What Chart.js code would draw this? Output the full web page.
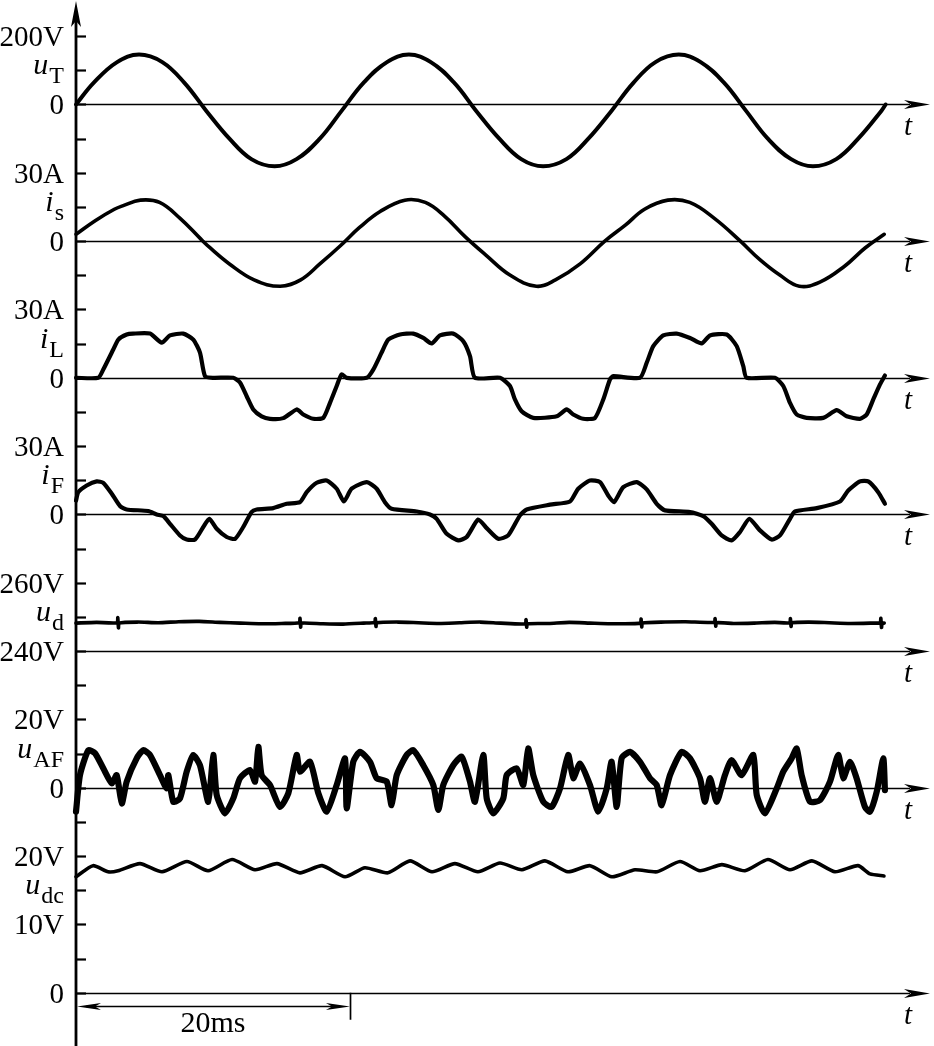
<!DOCTYPE html>
<html><head><meta charset="utf-8">
<script src="https://cdn.jsdelivr.net/npm/chart.js@4/dist/chart.umd.min.js"></script>
<style>html,body{margin:0;padding:0;background:#fff}canvas{display:block}</style>
</head><body>
<canvas id="c" width="934" height="1046"></canvas>
<script>
// ---- DATA (time in ms, values in V or A) ----
const uT = [[0,0],[1.3,64],[3.0,124],[4.6,146],[6.3,124],[7.9,64],[9.5,-18],[11.2,-100],[12.8,-160],[14.5,-181],[16.1,-160],[17.8,-100],[19.4,-18],[21.0,64],[22.7,124],[24.3,146],[25.9,124],[27.6,64],[29.2,-18],[30.9,-100],[32.5,-160],[34.1,-181],[35.8,-160],[37.4,-100],[39.1,-18],[40.7,64],[42.3,124],[44.0,146],[45.6,124],[47.3,64],[48.9,-18],[50.5,-100],[52.2,-160],[53.8,-181],[55.5,-160],[57.1,-100],[58.8,-18],[59.1,0]];
const iS = [[0,3],[1.4,9],[2.8,14],[3.4,15.5],[4.7,18],[6.1,17],[7.6,10],[9.1,1],[9.8,-3],[11.2,-10],[13.0,-17],[14.9,-19.8],[16.4,-17],[17.8,-10],[19.3,-2],[20.7,6],[22.2,13],[24.0,18],[25.5,17],[26.9,11],[28.4,2],[29.9,-6],[31.7,-15],[33.6,-19.8],[35.0,-17],[36.8,-10],[38.6,0],[40.1,7],[41.5,14],[43.2,18],[44.8,17],[46.6,10],[48.5,0],[49.9,-8],[51.4,-15],[52.8,-19.8],[54.3,-18],[56.1,-11],[57.6,-3],[59.0,3]];
const iL = [[0,0],[1.63,0],[1.99,3.6],[2.72,12.4],[3.09,16.8],[3.70,19.0],[4.16,19.4],[5.40,19.4],[6.26,15.4],[6.86,18.6],[7.83,19.4],[8.56,16.8],[9.05,11.1],[9.42,0.7],[10.02,0],[11.48,0],[11.97,-2.1],[12.46,-8.1],[12.94,-13.9],[13.55,-16.9],[14.16,-18.0],[15.13,-17.7],[16.11,-13.9],[16.59,-16.1],[17.32,-18.0],[18.05,-17.6],[18.54,-11.0],[19.03,-3.6],[19.39,1.5],[19.76,0],[21.22,0],[21.70,3.6],[22.31,11.1],[22.80,16.8],[23.65,19.0],[24.62,19.4],[25.35,17.5],[25.96,15.1],[26.57,18.6],[27.54,19.4],[28.27,16.1],[28.76,9.5],[29.12,0],[30.95,0],[31.68,-3.6],[32.04,-9.5],[32.53,-14.7],[33.38,-17.6],[35.09,-16.9],[35.82,-13.9],[36.30,-16.1],[37.03,-18.0],[37.88,-17.6],[38.49,-9.5],[38.98,-0.7],[39.22,0.7],[41.17,0],[41.66,6.6],[42.14,13.9],[42.87,18.6],[43.85,19.4],[44.82,17.5],[45.67,15.1],[46.28,18.6],[47.50,19.0],[48.23,13.9],[48.71,5.1],[48.96,0],[51.02,0],[51.63,-3.6],[52.12,-11.0],[52.61,-16.1],[53.34,-17.6],[54.55,-17.6],[55.53,-14.2],[56.26,-16.9],[57.23,-18.0],[57.72,-16.1],[58.20,-9.5],[58.69,-2.9],[59.05,1.0]];
const iF = [[0,6.1],[0.17,9.8],[0.78,12.7],[1.51,14.5],[1.99,13.9],[2.61,9.1],[3.21,3.7],[3.70,2.2],[5.28,1.5],[5.89,0],[6.37,-0.7],[6.86,-4.1],[7.59,-9.2],[8.08,-11.0],[8.69,-11.0],[9.29,-5.5],[9.73,-1.9],[10.27,-6.3],[11.0,-9.9],[11.61,-10.7],[12.21,-5.5],[12.82,1.1],[13.19,2.2],[14.40,2.8],[15.38,4.7],[16.35,5.4],[16.84,9.8],[17.57,13.9],[18.30,14.9],[19.03,11.3],[19.56,5.7],[20.12,11.3],[21.22,14.2],[21.95,11.3],[22.55,5.4],[23.04,2.5],[24.87,1.3],[25.84,0],[26.33,-1.9],[27.06,-8.5],[27.91,-11.4],[28.52,-9.9],[29.36,-2.2],[29.98,-6.0],[30.82,-10.7],[31.55,-9.2],[32.41,-0.4],[32.90,2.2],[34.60,4.3],[36.06,5.7],[36.66,11.3],[37.52,14.9],[38.25,14.2],[38.85,8.3],[39.27,5.4],[39.95,12.0],[40.93,14.2],[41.66,11.0],[42.39,4.7],[42.99,1.8],[44.82,1.1],[45.79,-0.7],[46.40,-4.1],[47.13,-9.2],[47.86,-11.4],[48.47,-7.7],[49.15,-1.9],[49.93,-7.0],[50.78,-11.0],[51.39,-9.2],[52.12,-1.9],[52.48,1.3],[54.07,2.8],[55.77,5.7],[56.37,10.5],[57.23,14.5],[57.83,14.5],[58.56,9.8],[59.05,4.7]];
const uD = [[0,248.2],[1.5,248.4],[3.0,248.3],[3.05,249.8],[3.1,246.8],[3.15,248.2],[4.5,248.5],[6,248.3],[7.5,248.6],[9,248.7],[10.5,248.4],[12,248.2],[13.5,248.0],[15,248.1],[16.3,248.3],[16.35,249.6],[16.4,247.0],[16.45,248.2],[18,248.0],[19.5,247.9],[21,248.2],[21.8,248.4],[21.85,249.5],[21.9,247.2],[21.95,248.3],[23.5,248.5],[25,248.3],[26.5,248.1],[28,248.3],[29.5,248.5],[31,248.2],[32.8,248.0],[32.85,249.2],[32.9,247.0],[32.95,248.0],[34.5,248.1],[36,248.4],[37.5,248.2],[39,248.0],[41.2,248.2],[41.25,249.4],[41.3,247.1],[41.35,248.2],[43,248.5],[44.5,248.6],[46.6,248.4],[46.65,249.5],[46.7,247.3],[46.75,248.3],[48,248.1],[49.5,248.2],[51,248.4],[52.1,248.3],[52.15,249.5],[52.2,247.2],[52.25,248.3],[53.5,248.5],[55,248.3],[56.5,248.1],[58,248.2],[58.7,248.3],[58.75,249.6],[58.8,246.9],[58.85,248.2],[59.0,248.2]];
const uAF = [[0,-7.0],[0.29,3.7],[0.90,11.0],[1.39,10.1],[1.99,5.7],[2.61,1.3],[2.97,3.7],[3.34,-4.6],[3.70,1.8],[4.43,8.6],[4.91,11.0],[5.40,9.6],[6.13,3.7],[6.62,-0.2],[6.74,3.7],[7.10,-4.1],[7.59,-3.1],[8.08,4.7],[8.56,9.6],[9.05,6.6],[9.66,-4.1],[10.02,9.6],[10.27,-2.1],[10.88,-7.5],[11.48,-3.1],[11.97,2.8],[12.70,5.2],[13.07,1.8],[13.31,12.0],[13.55,3.7],[14.16,0.8],[14.89,-5.6],[15.50,-1.6],[16.11,9.6],[16.35,4.7],[17.08,7.6],[17.69,-1.6],[18.30,-7.0],[19.03,0.8],[19.64,8.6],[19.76,-6.0],[20.24,7.6],[20.73,10.5],[21.46,7.6],[21.95,2.8],[22.68,1.8],[23.04,-5.1],[23.41,3.7],[24.14,9.6],[24.62,11.0],[25.35,6.6],[26.08,0.8],[26.45,-6.5],[26.81,0.8],[27.54,6.6],[28.15,9.1],[28.76,1.8],[29.12,-4.1],[29.73,9.6],[29.98,-3.1],[30.46,-7.5],[31.19,-3.1],[31.44,3.7],[32.17,5.7],[32.65,0.8],[33.01,11.5],[33.38,3.7],[34.11,-4.1],[34.72,-5.6],[35.33,-0.2],[35.93,9.6],[36.30,2.8],[36.79,7.1],[37.52,0.8],[38.12,-7.0],[38.74,-0.2],[39.10,7.6],[39.47,-5.6],[39.83,8.6],[40.44,10.5],[41.17,7.6],[41.90,2.8],[42.39,0.8],[42.75,-5.1],[43.36,3.7],[44.21,10.5],[44.82,8.6],[45.55,2.8],[45.91,-4.1],[46.28,2.8],[46.77,-4.1],[47.37,3.7],[47.86,8.1],[48.59,3.7],[49.44,9.6],[49.69,-2.1],[50.29,-7.5],[51.15,-0.2],[51.63,4.7],[52.24,8.6],[52.61,11.5],[52.97,3.7],[53.58,-4.1],[54.31,-3.6],[55.04,1.8],[55.64,9.6],[56.01,2.8],[56.50,7.6],[56.98,2.8],[57.59,-5.6],[57.96,-7.0],[58.45,-1.2],[58.93,8.6],[59.05,-0.7]];
const uDC = [[0,16.97],[1.24,18.6],[2.34,17.7],[3.07,17.85],[4.67,18.9],[6.28,17.7],[8.10,19.2],[9.64,17.85],[11.39,19.5],[13.07,18.0],[14.67,18.9],[16.35,17.55],[17.96,18.6],[19.64,16.97],[21.09,18.3],[22.77,17.55],[24.38,19.3],[25.99,17.7],[27.66,18.9],[29.34,17.7],[30.95,19.0],[32.55,18.0],[34.23,19.3],[35.91,17.7],[37.52,18.6],[39.12,16.97],[40.80,18.0],[42.41,17.7],[44.09,19.2],[45.55,17.85],[47.15,18.75],[48.83,17.85],[50.51,19.5],[52.12,18.0],[53.72,19.3],[55.40,17.7],[57.08,18.6],[57.96,17.4],[58.98,17.1]];

const seriesData  = [uT, iS, iL, iF, uD, uAF, uDC];
const seriesNames = [['u','T'],['i','s'],['i','L'],['i','F'],['u','d'],['u','AF'],['u','dc']];
const baseValues  = [0, 0, 0, 0, 240, 0, 0];          // value on each horizontal t axis
const stepValues  = [100, 15, 15, 15, 10, 10, 5];       // value per tick division
const tickLabelValues = [[200,0],[30,0],[30,0],[30,0],[260,240],[20,0],[20,10,0]];
const tickLabelTexts  = [['200V','0'],['30A','0'],['30A','0'],['30A','0'],['260V','240V'],['20V','0'],['20V','10V','0']];
const timeMax = 62.34;   // ms at the right arrow tip
const scaleBarMs = 20, scaleBarText = '20ms', timeLabel = 't';

// ---- LAYOUT ----
const TICK_TOP = -1, TICK_BOTTOM = 29.5;
const baseTick  = [2, 6, 10, 14, 18, 22, 28];
const tickRange = [[-1,2],[-1,2],[-1,2],[-1,2],[-1,2],[-1,2],[0,4]];
const nameStep  = [1,1,1,1,1,1,3];
const lineWidths = [4, 3.6, 4.2, 4.2, 3.6, 6.2, 3.6];
const FONT = '"Liberation Serif","Times New Roman",serif';

const scales = {
  x: {type:'linear', min:0, max:timeMax, display:false}
};
seriesData.forEach((d,i)=>{
  scales['y'+i] = {
    type:'linear', display:false,
    max: baseValues[i] + (baseTick[i]-TICK_TOP)*stepValues[i],
    min: baseValues[i] - (TICK_BOTTOM-baseTick[i])*stepValues[i]
  };
});

const datasets = seriesData.map((d,i)=>({
  data: d.map(p=>({x:p[0], y:p[1]})),
  yAxisID: 'y'+i,
  borderColor:'#000', borderWidth: lineWidths[i],
  pointRadius:0, fill:false, clip:false,
  tension: (i<2)?0.4:0.2,
  borderJoinStyle:'round', borderCapStyle:'round'
}));

function arrowRight(ctx,x,y){ctx.beginPath();ctx.moveTo(x,y);ctx.lineTo(x-26,y-4.5);ctx.lineTo(x-19,y);ctx.lineTo(x-26,y+4.5);ctx.closePath();ctx.fill();}
function arrowLeft(ctx,x,y){ctx.beginPath();ctx.moveTo(x,y);ctx.lineTo(x+24,y-3.5);ctx.lineTo(x+18,y);ctx.lineTo(x+24,y+3.5);ctx.closePath();ctx.fill();}

const decor = {
  id:'decor',
  beforeDatasetsDraw(chart){
    const ctx = chart.ctx, xs = chart.scales.x;
    const L = xs.left, R = xs.right;
    ctx.save();
    ctx.fillStyle='#000'; ctx.strokeStyle='#000';
    // vertical axis with arrow
    ctx.lineWidth = 2.8;
    ctx.beginPath(); ctx.moveTo(L, 16); ctx.lineTo(L, chart.height); ctx.stroke();
    ctx.beginPath(); ctx.moveTo(L,1); ctx.lineTo(L-5,27); ctx.lineTo(L,21); ctx.lineTo(L+5,27); ctx.closePath(); ctx.fill();
    seriesData.forEach((d,i)=>{
      const ys = chart.scales['y'+i];
      ctx.lineWidth = 2.2;
      for(let k=tickRange[i][0]; k<=tickRange[i][1]; k++){
        const py = Math.round(ys.getPixelForValue(baseValues[i]+k*stepValues[i]))+0.5;
        ctx.beginPath(); ctx.moveTo(L, py); ctx.lineTo(L+10, py); ctx.stroke();
      }
      const py0 = Math.round(ys.getPixelForValue(baseValues[i]))+0.5;
      ctx.lineWidth = 1.7;
      ctx.beginPath(); ctx.moveTo(L, py0); ctx.lineTo(R-20, py0); ctx.stroke();
      arrowRight(ctx, R, py0);
      ctx.font = 'italic 29px '+FONT; ctx.textAlign='center'; ctx.textBaseline='alphabetic';
      ctx.fillText(timeLabel, R-22, py0+30);
    });
    // 20 ms scale bar under last axis
    const yb = chart.scales['y6'].getPixelForValue(0);
    const x0 = xs.getPixelForValue(0), x1 = xs.getPixelForValue(scaleBarMs);
    const ya = Math.round(yb+13)+0.5;
    ctx.lineWidth = 1.5;
    ctx.beginPath(); ctx.moveTo(x0+10, ya); ctx.lineTo(x1-10, ya); ctx.stroke();
    arrowLeft(ctx, x0+1, ya);
    ctx.save(); ctx.translate(2*x1-1,0); ctx.scale(-1,1); arrowLeft(ctx, x1-1, ya); ctx.restore();
    ctx.lineWidth = 1.7;
    ctx.beginPath(); ctx.moveTo(Math.round(x1)+0.5, yb); ctx.lineTo(Math.round(x1)+0.5, yb+27); ctx.stroke();
    ctx.font = '30px '+FONT; ctx.textAlign='center';
    ctx.fillText(scaleBarText, (x0+x1)/2, yb+39);
    ctx.restore();
  },
  afterDatasetsDraw(chart){
    const ctx = chart.ctx;
    ctx.save(); ctx.fillStyle='#000'; ctx.textBaseline='alphabetic'; ctx.textAlign='right';
    const xr = 64;
    seriesData.forEach((d,i)=>{
      const ys = chart.scales['y'+i];
      tickLabelValues[i].forEach((v,j)=>{
        const py = ys.getPixelForValue(v);
        ctx.font = '29px '+FONT;
        ctx.fillText(tickLabelTexts[i][j], xr, py+10);
      });
      const pn = ys.getPixelForValue(baseValues[i]+nameStep[i]*stepValues[i]);
      const [m, s] = seriesNames[i];
      ctx.font = '24px '+FONT;
      const sw = ctx.measureText(s).width;
      ctx.fillText(s, xr, pn+13);
      ctx.font = 'italic 30px '+FONT;
      ctx.fillText(m, xr-sw-1, pn+4);
    });
    ctx.restore();
  }
};

new Chart(document.getElementById('c'), {
  type:'line',
  data:{datasets},
  options:{
    responsive:false, animation:false, devicePixelRatio:1,
    layout:{padding:{left:76, right:4, top:2, bottom:2}},
    plugins:{legend:{display:false}, tooltip:{enabled:false}},
    scales
  },
  plugins:[decor]
});
</script>
</body></html>
